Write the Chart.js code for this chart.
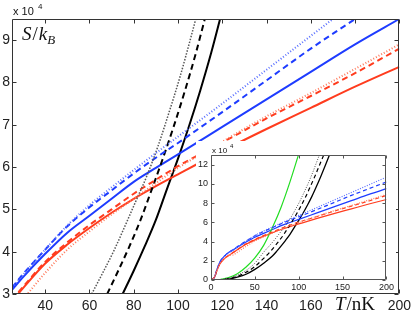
<!DOCTYPE html>
<html>
<head>
<meta charset="utf-8">
<script src="https://cdn.jsdelivr.net/npm/chart.js@4.4.0/dist/chart.umd.min.js"></script>
<style>
  body { margin: 0; background: #fff; }
  #wrap { position: relative; width: 415px; height: 317px; }
  #main { position: absolute; left: 0; top: 0; }
  #inset { position: absolute; left: 196px; top: 141px; background: #fff; }
</style>
</head>
<body>
<div id="wrap">
  <canvas id="main" width="415" height="317"></canvas>
  <canvas id="inset" width="200" height="152"></canvas>
</div>
<script>
// temperature grid (nK) shared by the blue and red curves
const tMain = [25, 30, 40, 50, 60, 70, 80, 90, 100, 120, 140, 160, 180, 200];
// entropy S/kB in units of 1e4
const blueSolid  = [3.1, 3.4, 3.95, 4.45, 4.85, 5.25, 5.65, 5.98, 6.3, 6.95, 7.6, 8.25, 8.9, 9.5];
const blueDashed = [3.15, 3.47, 4.05, 4.6, 5.05, 5.45, 5.85, 6.22, 6.57, 7.3, 8.05, 8.8, 9.5, 10.2];
const blueDotted = [3.15, 3.45, 4.05, 4.62, 5.1, 5.52, 5.93, 6.33, 6.72, 7.5, 8.3, 9.1, 9.9, 10.7];
const redSolid   = [2.83, 3.14, 3.72, 4.17, 4.56, 4.92, 5.25, 5.55, 5.83, 6.38, 6.9, 7.4, 7.9, 8.37];
const redDashed  = [2.86, 3.17, 3.76, 4.22, 4.63, 5.0, 5.37, 5.7, 6.02, 6.58, 7.15, 7.68, 8.22, 8.8];
const redDotted  = [2.6, 2.88, 3.5, 4.05, 4.48, 4.88, 5.25, 5.62, 5.98, 6.6, 7.2, 7.75, 8.32, 8.9];

// the steep black curves
const tBlackSolid  = [75, 80, 85, 90, 95, 100, 105, 110, 115, 120];
const blackSolid   = [3.0, 3.55, 4.13, 4.75, 5.48, 6.2, 6.97, 7.8, 8.7, 9.7];
const tBlackDashed = [68, 73, 78, 83, 88, 93, 98, 103, 108, 113];
const blackDashed  = [3.0, 3.55, 4.12, 4.74, 5.45, 6.18, 6.95, 7.78, 8.68, 9.68];
const tBlackDotted = [61, 66, 71, 76, 81, 86, 91, 96, 101, 106, 111];
const blackDotted  = [3.0, 3.5, 4.02, 4.6, 5.2, 5.8, 6.5, 7.3, 8.15, 9.1, 10.1];

// extra points only seen in the inset (0-200 nK)
const tLow    = [0, 4, 7, 10, 15, 20];
const blueLow = [0, 0.3, 1.15, 1.85, 2.45, 2.85];
const redLow  = [0, 0.3, 1.05, 1.65, 2.2, 2.55];
const tSolidLow  = [0, 10, 20, 30, 40, 50, 60, 70];
const solidLow   = [0, 0.02, 0.1, 0.3, 0.6, 1.1, 1.75, 2.5];
const tSolidHigh = [125, 130, 135, 140];
const solidHigh  = [10.75, 11.85, 13.0, 14.2];
const tDashedLow  = [0, 10, 20, 30, 40, 50, 60];
const dashedLow   = [0, 0.03, 0.14, 0.38, 0.8, 1.4, 2.25];
const tDashedHigh = [118, 123, 128, 133];
const dashedHigh  = [10.7, 11.8, 12.9, 14.0];
const tDottedLow  = [0, 10, 20, 30, 40, 50, 55];
const dottedLow   = [0, 0.04, 0.2, 0.5, 1.0, 1.75, 2.3];
const tDottedHigh = [116, 121, 126];
const dottedHigh  = [11.2, 12.4, 13.6];
const tGreen = [0, 10, 20, 30, 40, 50, 60, 70, 80, 90, 100];
const green  = [0, 0.05, 0.25, 0.65, 1.35, 2.3, 3.6, 5.45, 7.6, 10.2, 13.1];

// tick labels
const xTicks = [40, 60, 80, 100, 120, 140, 160, 180, 200];
const yTicks = [3, 4, 5, 6, 7, 8, 9];
const xTicksInset = [0, 50, 100, 150, 200];
const yTicksInset = [0, 2, 4, 6, 8, 10, 12];

const BLUE = '#1e3cff', BLUE_L = '#5a70ff', RED = '#ff3c1e', RED_L = '#ff7a5c', GRAY = '#555';

const pts = (ts, ys) => ts.map((t, i) => ({ x: t, y: ys[i] }));

function line(data, color, dash, width) {
  return {
    data: data,
    borderColor: color,
    borderWidth: width,
    borderDash: dash,
    pointRadius: 0,
    fill: false,
    cubicInterpolationMode: 'monotone'
  };
}

// box around the plot with inward tick marks (matlab look)
const frame = {
  id: 'frame',
  afterDraw(chart, args, o) {
    const { ctx, chartArea: a } = chart;
    const x = chart.scales.x, y = chart.scales.y;
    const L = Math.round(a.left) + 0.5, R = Math.round(a.right) - 0.5;
    const T = Math.round(a.top) + 0.5, B = Math.round(a.bottom) - 0.5;
    ctx.save();
    ctx.strokeStyle = o.color;
    ctx.lineWidth = 1;
    ctx.beginPath();
    ctx.rect(L, T, R - L, B - T);
    x.ticks.forEach(t => {
      const p = Math.round(x.getPixelForValue(t.value)) + 0.5;
      ctx.moveTo(p, B); ctx.lineTo(p, B - o.len);
      ctx.moveTo(p, T); ctx.lineTo(p, T + o.len);
    });
    y.ticks.forEach(t => {
      const p = Math.round(y.getPixelForValue(t.value)) + 0.5;
      ctx.moveTo(L, p); ctx.lineTo(L + o.len, p);
      ctx.moveTo(R, p); ctx.lineTo(R - o.len, p);
    });
    ctx.stroke();
    ctx.restore();
  }
};

function axes(xmin, xmax, xt, ymin, ymax, yt, fontSize, yWidth, xHeight, xPad, yPad, skip) {
  const font = { family: '"Liberation Sans", Arial, sans-serif', size: fontSize };
  return {
    x: {
      type: 'linear', min: xmin, max: xmax,
      afterBuildTicks: s => { s.ticks = xt.map(v => ({ value: v })); },
      afterFit: s => { s.height = xHeight; },
      grid: { display: false, drawTicks: false },
      border: { display: false },
      ticks: { font, color: '#222', padding: xPad, maxRotation: 0, autoSkip: false,
               callback: v => (v === skip ? '' : String(v)) }
    },
    y: {
      type: 'linear', min: ymin, max: ymax,
      afterBuildTicks: s => { s.ticks = yt.map(v => ({ value: v })); },
      afterFit: s => { s.width = yWidth; },
      grid: { display: false, drawTicks: false },
      border: { display: false },
      ticks: { font, color: '#222', padding: yPad, autoSkip: false }
    }
  };
}

// text labels of the main plot
const mainText = {
  id: 'mainText',
  afterDraw(chart) {
    const ctx = chart.ctx;
    ctx.save();
    ctx.fillStyle = '#111';
    ctx.textBaseline = 'alphabetic';
    ctx.font = '11px "Liberation Sans", Arial';
    ctx.fillText('x 10', 13, 15);
    ctx.font = '8px "Liberation Sans", Arial';
    ctx.fillText('4', 38, 9);

    let x = 22;
    ctx.font = 'italic 19px "Liberation Serif", serif';
    ctx.fillText('S', x, 40); x += ctx.measureText('S').width + 1;
    ctx.font = '19px "Liberation Serif", serif';
    ctx.fillText('/', x, 40); x += ctx.measureText('/').width + 1;
    ctx.font = 'italic 19px "Liberation Serif", serif';
    ctx.fillText('k', x, 40); x += ctx.measureText('k').width;
    ctx.font = 'italic 13px "Liberation Serif", serif';
    ctx.fillText('B', x, 44);

    x = 335;
    ctx.font = 'italic 19px "Liberation Serif", serif';
    ctx.fillText('T', x, 310); x += ctx.measureText('T').width + 1;
    ctx.font = '19px "Liberation Serif", serif';
    ctx.fillText('/nK', x, 310);
    ctx.restore();
  }
};

const insetText = {
  id: 'insetText',
  afterDraw(chart) {
    const ctx = chart.ctx;
    ctx.save();
    ctx.fillStyle = '#111';
    ctx.font = '8px "Liberation Sans", Arial';
    ctx.fillText('x 10', 16, 12);
    ctx.font = '6px "Liberation Sans", Arial';
    ctx.fillText('4', 34, 7);
    ctx.restore();
  }
};

new Chart(document.getElementById('main'), {
  type: 'line',
  data: {
    datasets: [
      line(pts(tMain, redDotted), RED_L, [1, 2], 2),
      line(pts(tMain, blueDotted), BLUE_L, [1, 2], 2),
      line(pts(tBlackDotted, blackDotted), GRAY, [1.5, 1.5], 1.5),
      line(pts(tMain, redDashed), RED, [6, 4], 2),
      line(pts(tMain, blueDashed), BLUE, [6, 4], 2),
      line(pts(tBlackDashed, blackDashed), '#000', [6, 4], 2),
      line(pts(tMain, redSolid), RED, [], 2),
      line(pts(tMain, blueSolid), BLUE, [], 2),
      line(pts(tBlackSolid, blackSolid), '#000', [], 2)
    ]
  },
  options: {
    responsive: false,
    animation: false,
    devicePixelRatio: 1,
    layout: { padding: { left: 0, right: 14, top: 19, bottom: 0 } },
    plugins: { legend: { display: false }, tooltip: { enabled: false },
               frame: { color: '#333', len: 4 } },
    scales: axes(25, 200, xTicks, 3, 9.5, yTicks, 14, 12, 23, 4, 2, 180)
  },
  plugins: [frame, mainText]
});

const lowT = a => tLow.concat(a);
new Chart(document.getElementById('inset'), {
  type: 'line',
  data: {
    datasets: [
      line(pts(lowT(tMain), redLow.concat(redDotted)), RED_L, [1, 1.5], 1.2),
      line(pts(lowT(tMain), blueLow.concat(blueDotted)), BLUE_L, [1, 1.5], 1.2),
      line(pts(tDottedLow.concat(tBlackDotted, tDottedHigh), dottedLow.concat(blackDotted, dottedHigh)), GRAY, [1, 1.5], 1),
      line(pts(lowT(tMain), redLow.concat(redDashed)), RED, [4, 3], 1.2),
      line(pts(lowT(tMain), blueLow.concat(blueDashed)), BLUE, [4, 3], 1.2),
      line(pts(tDashedLow.concat(tBlackDashed, tDashedHigh), dashedLow.concat(blackDashed, dashedHigh)), '#000', [4, 3], 1.2),
      line(pts(tGreen, green), '#22dd22', [], 1.2),
      line(pts(lowT(tMain), redLow.concat(redSolid)), RED, [], 1.2),
      line(pts(lowT(tMain), blueLow.concat(blueSolid)), BLUE, [], 1.2),
      line(pts(tSolidLow.concat(tBlackSolid, tSolidHigh), solidLow.concat(blackSolid, solidHigh)), '#000', [], 1.3)
    ]
  },
  options: {
    responsive: false,
    animation: false,
    devicePixelRatio: 1,
    layout: { padding: { left: 0, right: 6, top: 14, bottom: 0 } },
    plugins: { legend: { display: false }, tooltip: { enabled: false },
               frame: { color: '#555', len: 3 } },
    scales: axes(0, 200, xTicksInset, 0, 13, yTicksInset, 9, 15, 13, 2, 3, null)
  },
  plugins: [frame, insetText]
});
</script>
</body>
</html>
